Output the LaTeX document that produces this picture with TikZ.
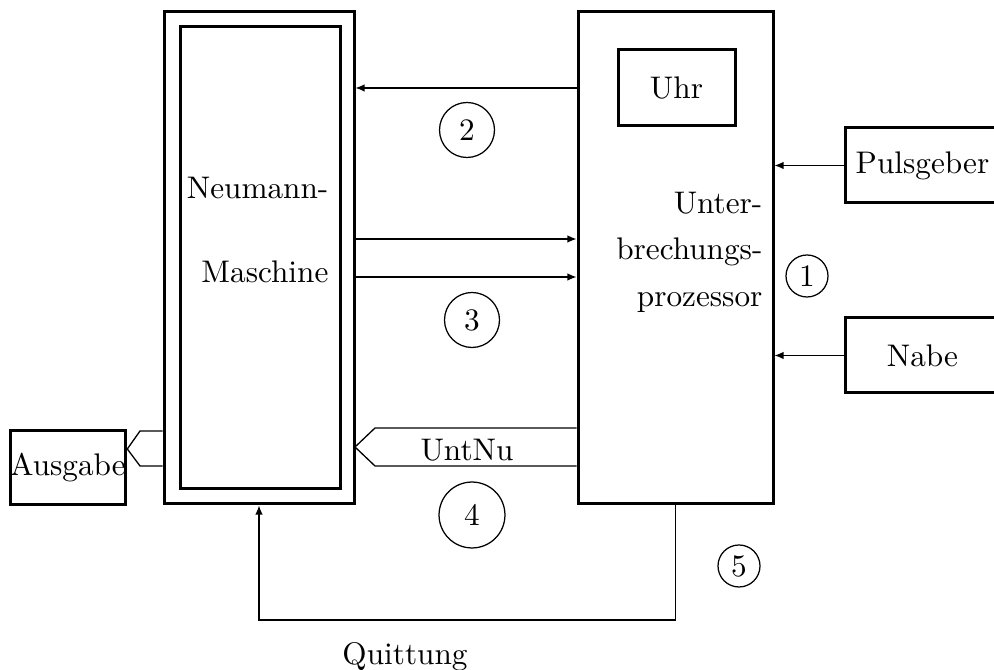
\documentclass[tikz,border=0pt]{standalone}
\usetikzlibrary{arrows.meta}
\begin{document}
\begin{tikzpicture}[x=0.32pt,y=-0.32pt,
  boxthick/.style={draw,line width=0.96pt,rectangle,inner sep=0pt},
  numcirc/.style={draw,circle,line width=0.4pt,inner sep=0pt},
  lbl/.style={inner sep=0pt},
  sig/.style={line width=0.42pt},
  arr/.style={line width=0.42pt,-{Latex[length=2.9pt,width=2.4pt]}}]
\useasboundingbox (0,0) rectangle (994,670);
% main boxes
\node[boxthick,minimum width=60.8pt,minimum height=157.44pt] (nm) at (259,258) {};
\node[boxthick,minimum width=51.2pt,minimum height=147.84pt] (nmi) at (260,258) {};
\node[boxthick,minimum width=62.4pt,minimum height=157.44pt] (up) at (675.5,258) {};
\node[boxthick,minimum width=37.44pt,minimum height=24.32pt] (uhr) at (676.5,88) {Uhr};
\node[boxthick,minimum width=49.6pt,minimum height=24pt] (puls) at (922.5,165.5) {Pulsgeber};
\node[boxthick,minimum width=49.6pt,minimum height=24pt] (nabe) at (922.5,355.5) {Nabe};
\node[boxthick,minimum width=36.48pt,minimum height=23.68pt] (aus) at (68,468) {Ausgabe};
% texts
\node[lbl,anchor=base east] (t1) at (329,199) {Neumann-};
\node[lbl,anchor=base east] (t2) at (329,283) {Maschine};
\node[lbl,anchor=base east] (t3) at (763,214) {Unter-};
\node[lbl,anchor=base east] (t4) at (763,260) {brechungs-};
\node[lbl,anchor=base east] (t5) at (763,307) {prozessor};
\node[lbl] (untnu) at (467,450) {UntNu};
\node[lbl,anchor=base] (quit) at (405,665) {Quittung};
% numbered circles
\node[numcirc,minimum size=13.44pt] (c1) at (807,276) {1};
\node[numcirc,minimum size=17.6pt] (c2) at (467,130) {2};
\node[numcirc,minimum size=17.6pt] (c3) at (472,320) {3};
\node[numcirc,minimum size=21.1pt] (c4) at (472,515) {4};
\node[numcirc,minimum size=13.44pt] (c5) at (739,566) {5};
% connectors
\draw[arr] (up.west |- 0,88) -- (nm.east |- 0,88);
\draw[arr] (nm.east |- 0,239) -- (up.west |- 0,239);
\draw[arr] (nm.east |- 0,277) -- (up.west |- 0,277);
\draw[arr] (puls.west) -- (up.east |- puls.west);
\draw[arr] (nabe.west) -- (up.east |- nabe.west);
\draw[arr] (up.south) -- (up.south |- 0,620) -| (nm.south);
% hollow arrows
\draw[sig] (up.west |- 0,428) -- (375,428) -- (355,447) -- (375,466) -- (up.west |- 0,466);
\draw[sig] (nm.west |- 0,431) -- (140,431) -- (aus.east |- 0,449) -- (140,466) -- (nm.west |- 0,466);
\end{tikzpicture}
\end{document}
